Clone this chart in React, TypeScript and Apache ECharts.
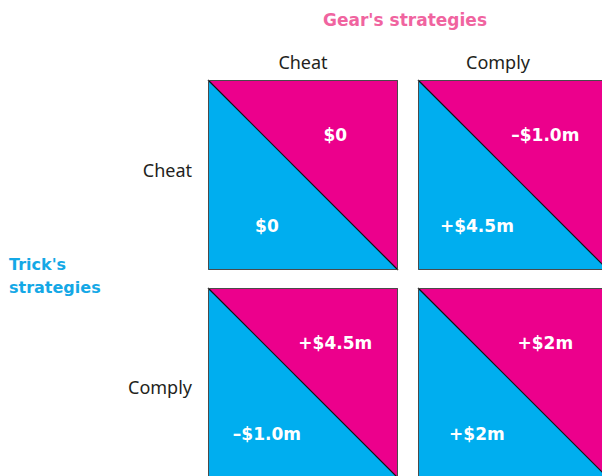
import React, { useEffect, useRef } from "react";
import * as echarts from "echarts";

// Columns: Gear's strategies; rows: Trick's strategies
const gearStrategies = ["Cheat", "Comply"];
const trickStrategies = ["Cheat", "Comply"];
// Payoffs indexed [trickRow][gearCol]
const gearPayoffs = [
  ["$0", "–$1.0m"],
  ["+$4.5m", "+$2m"],
];
const trickPayoffs = [
  ["$0", "+$4.5m"],
  ["–$1.0m", "+$2m"],
];

const MAGENTA = "#EC008C";
const CYAN = "#00AEEF";

export default function App() {
  const ref = useRef<HTMLDivElement>(null);
  useEffect(() => {
    document.body.style.margin = "0";
    if (!ref.current) return;
    const chart = echarts.init(ref.current, undefined, { renderer: "svg" });

    const cells: { c: number; r: number; gear: string; trick: string }[] = [];
    trickStrategies.forEach((_, r) =>
      gearStrategies.forEach((__, c) =>
        cells.push({ c, r, gear: gearPayoffs[r][c], trick: trickPayoffs[r][c] })
      )
    );

    const valueFont = {
      fontFamily: "DejaVu Sans",
      fontWeight: "bold" as const,
      fontSize: 17,
      fill: "#ffffff",
      align: "center" as const,
      verticalAlign: "middle" as const,
    };

    chart.setOption({
      animation: false,
      backgroundColor: "#ffffff",
      grid: {
        left: 198,
        top: 71,
        width: 420,
        height: 416,
        outerBoundsMode: "none",
        containLabel: false,
      },
      xAxis: {
        type: "category",
        position: "top",
        data: gearStrategies.map((s, i) => ({
          value: s,
          textStyle: i === 1 ? { padding: [0, 30, 0, 0] } : {},
        })),
        axisLine: { show: false },
        axisTick: { show: false },
        splitLine: { show: false },
        axisLabel: {
          margin: 0,
          fontFamily: "Noto Sans",
          fontSize: 18,
          color: "#231f20",
        },
      },
      yAxis: {
        type: "category",
        inverse: true,
        data: trickStrategies.map((s) => s),
        axisLine: { show: false },
        axisTick: { show: false },
        splitLine: { show: false },
        axisLabel: {
          margin: 6,
          fontFamily: "Noto Sans",
          fontSize: 18,
          color: "#231f20",
          formatter: (v: string, i: number) => (i === 0 ? `{up|${v}}` : `{down|${v}}`),
          rich: {
            up: {
              fontFamily: "Noto Sans",
              fontSize: 18,
              color: "#231f20",
              padding: [0, 0, 10, 0],
            },
            down: {
              fontFamily: "Noto Sans",
              fontSize: 18,
              color: "#231f20",
              padding: [8, 0, 0, 0],
            },
          },
        },
      },
      graphic: [
        {
          type: "text",
          x: 405,
          y: 20,
          style: {
            text: "Gear's strategies",
            fontFamily: "DejaVu Sans",
            fontWeight: "bold",
            fontSize: 17,
            fill: "#F0649F",
            align: "center",
            verticalAlign: "middle",
          },
        },
        {
          type: "text",
          x: 9,
          y: 276,
          style: {
            text: "Trick's\nstrategies",
            fontFamily: "DejaVu Sans",
            fontWeight: "bold",
            fontSize: 16,
            lineHeight: 23,
            fill: "#14A8E6",
            align: "left",
            verticalAlign: "middle",
          },
        },
      ],
      series: [
        {
          type: "custom",
          clip: false,
          data: cells.map((d) => [d.c, d.r]),
          renderItem: (params: any, api: any) => {
            const cell = cells[params.dataIndex];
            const [cx, cy] = api.coord([api.value(0), api.value(1)]);
            const band = api.size([1, 1]);
            const s = Math.min(band[0], band[1]) - 18;
            const x0 = Math.round(cx - s / 2);
            const y0 = Math.round(cy - s / 2);
            return {
              type: "group",
              children: [
                {
                  type: "polygon",
                  shape: { points: [[x0, y0], [x0, y0 + s], [x0 + s, y0 + s]] },
                  style: { fill: CYAN },
                },
                {
                  type: "polygon",
                  shape: { points: [[x0, y0], [x0 + s, y0], [x0 + s, y0 + s]] },
                  style: { fill: MAGENTA },
                },
                {
                  type: "line",
                  shape: { x1: x0, y1: y0, x2: x0 + s, y2: y0 + s },
                  style: { stroke: "#111111", lineWidth: 1.2 },
                },
                {
                  type: "rect",
                  shape: { x: x0 + 0.5, y: y0 + 0.5, width: s - 1, height: s - 1 },
                  style: { fill: "none", stroke: "#4a4a4a", lineWidth: 1 },
                },
                {
                  type: "text",
                  x: x0 + s * 0.67,
                  y: y0 + s * 0.29,
                  style: { ...valueFont, text: cell.gear },
                },
                {
                  type: "text",
                  x: x0 + s * 0.31,
                  y: y0 + s * 0.77,
                  style: { ...valueFont, text: cell.trick },
                },
              ],
            };
          },
        },
      ],
    });
    return () => chart.dispose();
  }, []);
  return <div ref={ref} style={{ width: 602, height: 476 }} />;
}
